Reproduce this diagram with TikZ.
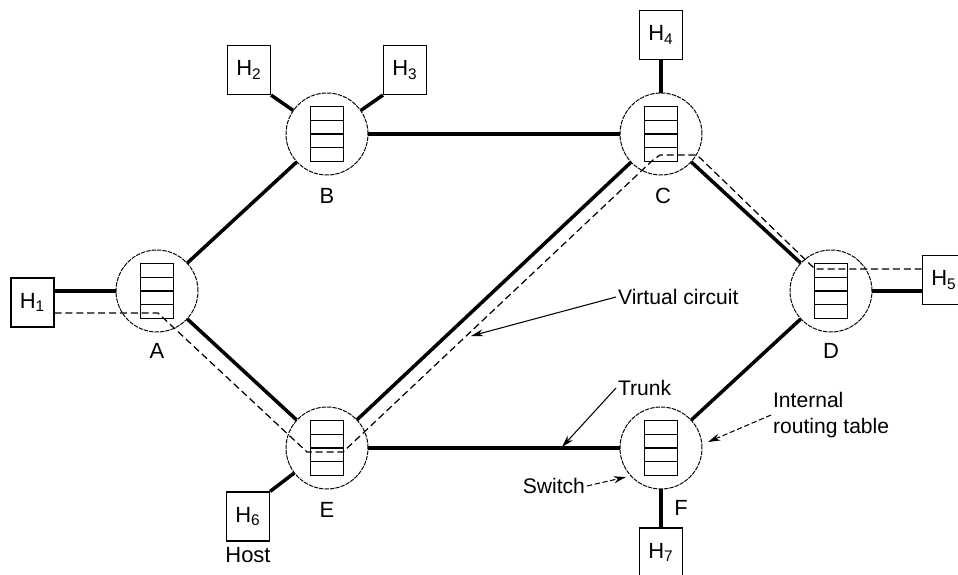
\documentclass[tikz,border=0pt]{standalone}
\usepackage{fontspec}
\setmainfont{Liberation Sans}
\usetikzlibrary{arrows.meta}

\begin{document}
\begin{tikzpicture}[x=0.02cm, y=-0.02cm]
\tikzset{noeud/.style={draw, circle, line width=0.55pt, dash pattern=on 2.5pt off 0.6pt, minimum size=1.64cm, inner sep=0pt},
hote/.style={draw, rectangle, line width=0.65pt, minimum width=0.86cm, minimum height=0.98cm, inner sep=0pt, font=\fontsize{12.5}{14}\selectfont},
lien/.style={line width=2pt},
circuit/.style={line width=0.7pt, dash pattern=on 4pt off 2.2pt},
tableau/.style={line width=0.65pt},
etiq/.style={font=\fontsize{12.5}{14}\selectfont},
legende/.style={font=\fontsize{12}{14.7}\selectfont, align=left, inner sep=1pt},
fleche/.style={line width=0.6pt, -{Stealth[length=7pt, width=4pt]}},
flechept/.style={fleche, dash pattern=on 3pt off 1.5pt}}
\useasboundingbox (0,0) rectangle (958,575);
\node[noeud] (A) at (157,291) {};
\node[noeud] (B) at (327,134) {};
\node[noeud] (C) at (661,134) {};
\node[noeud] (D) at (831,291) {};
\node[noeud] (E) at (327,448) {};
\node[noeud] (F) at (661,448) {};
\foreach \n in {A,B,C,D,E,F} {
  \draw[tableau] ([shift={(-16.5,-27.5)}]\n.center) rectangle ([shift={(16.5,27.5)}]\n.center);
  \foreach \k in {-13.75,0,13.75}
    \draw[tableau] ([shift={(-16.5,\k)}]\n.center) -- ([shift={(16.5,\k)}]\n.center);
}
\node[etiq] (lA) at (157,351) {A};
\node[etiq] (lB) at (327,196) {B};
\node[etiq] (lC) at (663,196) {C};
\node[etiq] (lD) at (831,351) {D};
\node[etiq] (lE) at (327,510) {E};
\node[etiq] (lF) at (681,508) {F};
\node[hote] (H1) at (32.5,302.5) {H\textsubscript{1}};
\node[hote] (H2) at (249,70) {H\textsubscript{2}};
\node[hote] (H3) at (405,70) {H\textsubscript{3}};
\node[hote] (H4) at (661,35) {H\textsubscript{4}};
\node[hote] (H5) at (944,280) {H\textsubscript{5}};
\node[hote] (H6) at (248,516.5) {H\textsubscript{6}};
\node[hote] (H7) at (661,552.5) {H\textsubscript{7}};
\node[etiq] (host) at (248,555) {Host};
\draw[lien] (A) -- (B);
\draw[lien] (A) -- (E);
\draw[lien] (B) -- (C);
\draw[lien] (C) -- (E);
\draw[lien] (C) -- (D);
\draw[lien] (D) -- (F);
\draw[lien] (E) -- (F);
\draw[lien] (H1.east |- A) -- (A);
\draw[lien] (H2.south east) -- (B);
\draw[lien] (H3.south west) -- (B);
\draw[lien] (H4) -- (C);
\draw[lien] (D) -- (D -| H5.west);
\draw[lien] (H6.north east) -- (E);
\draw[lien] (H7) -- (F);
\coordinate (v1) at (158,313);
\coordinate (v2) at (307,452);
\coordinate (v3) at (343,452);
\coordinate (v4) at (653,160);
\coordinate (v5) at (660,155);
\coordinate (v6) at (697,155);
\coordinate (v7) at (815,269);
\draw[circuit] (H1.east |- v1) -- (v1) -- (v2) -- (v3) -- (v4) -- (v5) -- (v6) -- (v7) -- (v7 -| H5.west);
\node[legende, anchor=west] (vc) at (616,297) {Virtual circuit};
\node[legende, anchor=west] (tr) at (616,388) {Trunk};
\node[legende, anchor=east] (sw) at (587,486) {Switch};
\node[legende, anchor=west] (irt) at (771,415) {Internal\\routing table};
\coordinate (pv) at (471,336);
\coordinate (pt) at (562,447);
\coordinate (ps) at (626,477);
\coordinate (pi) at (708,442);
\draw[fleche] (vc.west) -- (pv);
\draw[fleche] (tr.west) -- (pt);
\draw[flechept] (sw.east) -- (ps);
\draw[flechept] (irt.west) -- (pi);
\end{tikzpicture}
\end{document}
